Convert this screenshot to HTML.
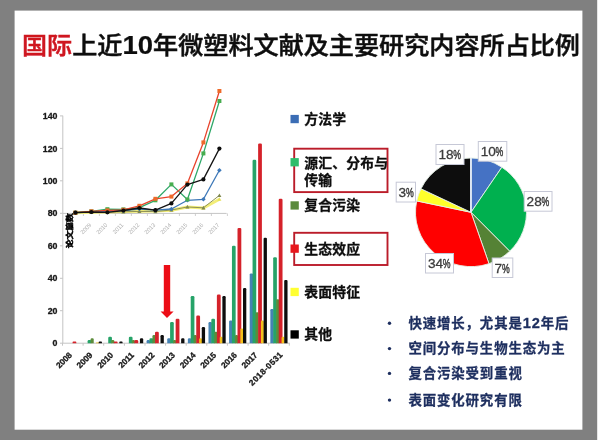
<!DOCTYPE html>
<html lang="zh"><head><meta charset="utf-8"><title>国际上近10年微塑料文献及主要研究内容所占比例</title>
<style>html,body{margin:0;padding:0;background:#808080;}body{width:600px;height:440px;overflow:hidden;}svg{display:block;font-family:"Liberation Sans", "Noto Sans CJK SC", sans-serif;}</style>
</head><body>
<svg width="600" height="440" viewBox="0 0 600 440">
<defs><filter id="soft" x="-5%" y="-5%" width="110%" height="110%"><feGaussianBlur stdDeviation="0.45"/></filter></defs>
<rect x="0" y="0" width="600" height="440" fill="#808080"/>
<rect x="597.2" y="0" width="3" height="440" fill="#ffffff"/>
<g filter="url(#soft)">
<rect x="14.6" y="10.6" width="567.8" height="419.1" fill="#ffffff"/>
<text x="22.0" y="54.0" font-size="24.2" font-weight="500" fill="#111111" stroke="#111111" stroke-width="0.5" textLength="558" lengthAdjust="spacingAndGlyphs"><tspan fill="#cf1420" stroke="#cf1420">国际</tspan>上近<tspan font-weight="700" font-size="26.5" stroke-width="0.2">10</tspan>年微塑料文献及主要研究内容所占比例</text>
<g stroke="#c4c4c4" stroke-width="1" fill="none">
<path d="M62.8 115.7V343.2"/>
<path d="M62.3 343.2H289.8"/>
<path d="M60 343.2H62.8"/>
<path d="M60 310.7H62.8"/>
<path d="M60 278.3H62.8"/>
<path d="M60 245.8H62.8"/>
<path d="M60 213.3H62.8"/>
<path d="M60 180.8H62.8"/>
<path d="M60 148.4H62.8"/>
<path d="M60 115.9H62.8"/>
<path d="M62.5 343.2V345.7"/>
<path d="M83.1 343.2V345.7"/>
<path d="M103.7 343.2V345.7"/>
<path d="M124.4 343.2V345.7"/>
<path d="M145.0 343.2V345.7"/>
<path d="M165.6 343.2V345.7"/>
<path d="M186.2 343.2V345.7"/>
<path d="M206.8 343.2V345.7"/>
<path d="M227.4 343.2V345.7"/>
<path d="M248.1 343.2V345.7"/>
<path d="M268.7 343.2V345.7"/>
<path d="M289.3 343.2V345.7"/>
</g>
<g font-size="8.8" font-weight="700" fill="#1a1a1a" stroke="#1a1a1a" stroke-width="0.3" text-anchor="end">
<text x="57.5" y="346.3">0</text>
<text x="57.5" y="313.8">20</text>
<text x="57.5" y="281.4">40</text>
<text x="57.5" y="248.9">60</text>
<text x="57.5" y="216.4">80</text>
<text x="57.5" y="183.9">100</text>
<text x="57.5" y="151.5">120</text>
<text x="57.5" y="119.0">140</text>
</g>
<g font-size="8.3" font-weight="700" fill="#1a1a1a" stroke="#1a1a1a" stroke-width="0.3" text-anchor="end">
<text transform="translate(72.5 355.8) rotate(-45)">2008</text>
<text transform="translate(93.1 355.8) rotate(-45)">2009</text>
<text transform="translate(113.7 355.8) rotate(-45)">2010</text>
<text transform="translate(134.4 355.8) rotate(-45)">2011</text>
<text transform="translate(155.0 355.8) rotate(-45)">2012</text>
<text transform="translate(175.6 355.8) rotate(-45)">2013</text>
<text transform="translate(196.2 355.8) rotate(-45)">2014</text>
<text transform="translate(216.8 355.8) rotate(-45)">2015</text>
<text transform="translate(237.5 355.8) rotate(-45)">2016</text>
<text transform="translate(258.1 355.8) rotate(-45)">2017</text>
<text transform="translate(283.1 355.4) rotate(-45)" textLength="43.5" lengthAdjust="spacing">2018-0531</text>
</g>
<g>
<path d="M72.55 343.20V342.39Q72.55 341.58 73.36 341.58H75.54Q76.35 341.58 76.35 342.39V343.20Z" fill="#d5242c"/>
<path d="M87.62 343.20V341.15Q87.62 339.95 88.82 339.95H90.12Q91.32 339.95 91.32 341.15V343.20Z" fill="#27a368"/>
<path d="M90.62 343.20V339.53Q90.62 338.33 91.82 338.33H92.52Q93.72 338.33 93.72 339.53V343.20Z" fill="#5c8c3a"/>
<path d="M96.02 343.20V342.79Q96.02 342.39 96.42 342.39H98.51Q98.92 342.39 98.92 342.79V343.20Z" fill="#f3c11c"/>
<path d="M98.67 343.20V342.39Q98.67 341.58 99.48 341.58H101.16Q101.97 341.58 101.97 342.39V343.20Z" fill="#0a0a0a"/>
<path d="M108.24 343.20V337.91Q108.24 336.71 109.44 336.71H110.74Q111.94 336.71 111.94 337.91V343.20Z" fill="#27a368"/>
<path d="M111.24 343.20V341.15Q111.24 339.95 112.44 339.95H113.14Q114.34 339.95 114.34 341.15V343.20Z" fill="#5c8c3a"/>
<path d="M113.79 343.20V342.39Q113.79 341.58 114.60 341.58H116.77Q117.59 341.58 117.59 342.39V343.20Z" fill="#d5242c"/>
<path d="M119.29 343.20V342.39Q119.29 341.58 120.10 341.58H121.77Q122.59 341.58 122.59 342.39V343.20Z" fill="#0a0a0a"/>
<path d="M128.85 343.20V337.91Q128.85 336.71 130.05 336.71H131.35Q132.55 336.71 132.55 337.91V343.20Z" fill="#27a368"/>
<path d="M131.85 343.20V341.15Q131.85 339.95 133.05 339.95H133.75Q134.95 339.95 134.95 341.15V343.20Z" fill="#5c8c3a"/>
<path d="M134.40 343.20V341.15Q134.40 339.95 135.60 339.95H137.00Q138.20 339.95 138.20 341.15V343.20Z" fill="#d5242c"/>
<path d="M139.90 343.20V339.53Q139.90 338.33 141.10 338.33H142.00Q143.20 338.33 143.20 339.53V343.20Z" fill="#0a0a0a"/>
<path d="M146.62 343.20V341.15Q146.62 339.95 147.82 339.95H148.82Q150.02 339.95 150.02 341.15V343.20Z" fill="#4482b4"/>
<path d="M149.47 343.20V339.53Q149.47 338.33 150.67 338.33H151.97Q153.17 338.33 153.17 339.53V343.20Z" fill="#27a368"/>
<path d="M152.47 343.20V336.28Q152.47 335.08 153.67 335.08H154.37Q155.57 335.08 155.57 336.28V343.20Z" fill="#5c8c3a"/>
<path d="M155.02 343.20V333.03Q155.02 331.83 156.22 331.83H157.62Q158.82 331.83 158.82 333.03V343.20Z" fill="#d5242c"/>
<path d="M160.52 343.20V336.28Q160.52 335.08 161.72 335.08H162.62Q163.82 335.08 163.82 336.28V343.20Z" fill="#0a0a0a"/>
<path d="M167.24 343.20V339.53Q167.24 338.33 168.44 338.33H169.44Q170.64 338.33 170.64 339.53V343.20Z" fill="#4482b4"/>
<path d="M170.09 343.20V323.29Q170.09 322.09 171.29 322.09H172.59Q173.79 322.09 173.79 323.29V343.20Z" fill="#27a368"/>
<path d="M173.09 343.20V341.15Q173.09 339.95 174.29 339.95H174.99Q176.19 339.95 176.19 341.15V343.20Z" fill="#5c8c3a"/>
<path d="M175.64 343.20V320.05Q175.64 318.85 176.84 318.85H178.24Q179.44 318.85 179.44 320.05V343.20Z" fill="#d5242c"/>
<path d="M181.14 343.20V339.53Q181.14 338.33 182.34 338.33H183.24Q184.44 338.33 184.44 339.53V343.20Z" fill="#0a0a0a"/>
<path d="M187.86 343.20V339.53Q187.86 338.33 189.06 338.33H190.06Q191.26 338.33 191.26 339.53V343.20Z" fill="#4482b4"/>
<path d="M190.71 343.20V297.32Q190.71 296.12 191.91 296.12H193.21Q194.41 296.12 194.41 297.32V343.20Z" fill="#27a368"/>
<path d="M193.71 343.20V336.28Q193.71 335.08 194.91 335.08H195.61Q196.81 335.08 196.81 336.28V343.20Z" fill="#5c8c3a"/>
<path d="M196.26 343.20V316.80Q196.26 315.60 197.46 315.60H198.86Q200.06 315.60 200.06 316.80V343.20Z" fill="#d5242c"/>
<path d="M199.11 343.20V339.53Q199.11 338.33 200.31 338.33H200.81Q202.01 338.33 202.01 339.53V343.20Z" fill="#f3c11c"/>
<path d="M201.76 343.20V328.16Q201.76 326.96 202.96 326.96H203.86Q205.06 326.96 205.06 328.16V343.20Z" fill="#0a0a0a"/>
<path d="M208.48 343.20V323.29Q208.48 322.09 209.68 322.09H210.68Q211.88 322.09 211.88 323.29V343.20Z" fill="#4482b4"/>
<path d="M211.33 343.20V320.05Q211.33 318.85 212.53 318.85H213.83Q215.03 318.85 215.03 320.05V343.20Z" fill="#27a368"/>
<path d="M214.33 343.20V333.03Q214.33 331.83 215.53 331.83H216.23Q217.43 331.83 217.43 333.03V343.20Z" fill="#5c8c3a"/>
<path d="M216.88 343.20V295.69Q216.88 294.49 218.08 294.49H219.48Q220.68 294.49 220.68 295.69V343.20Z" fill="#d5242c"/>
<path d="M219.73 343.20V337.91Q219.73 336.71 220.93 336.71H221.43Q222.63 336.71 222.63 337.91V343.20Z" fill="#f3c11c"/>
<path d="M222.38 343.20V297.32Q222.38 296.12 223.58 296.12H224.48Q225.68 296.12 225.68 297.32V343.20Z" fill="#0a0a0a"/>
<path d="M229.10 343.20V321.67Q229.10 320.47 230.30 320.47H231.30Q232.50 320.47 232.50 321.67V343.20Z" fill="#4482b4"/>
<path d="M231.95 343.20V246.98Q231.95 245.78 233.15 245.78H234.45Q235.65 245.78 235.65 246.98V343.20Z" fill="#27a368"/>
<path d="M234.95 343.20V336.28Q234.95 335.08 236.15 335.08H236.85Q238.05 335.08 238.05 336.28V343.20Z" fill="#5c8c3a"/>
<path d="M237.50 343.20V229.12Q237.50 227.92 238.70 227.92H240.10Q241.30 227.92 241.30 229.12V343.20Z" fill="#d5242c"/>
<path d="M240.35 343.20V329.79Q240.35 328.59 241.55 328.59H242.05Q243.25 328.59 243.25 329.79V343.20Z" fill="#f3c11c"/>
<path d="M243.00 343.20V289.20Q243.00 288.00 244.20 288.00H245.10Q246.30 288.00 246.30 289.20V343.20Z" fill="#0a0a0a"/>
<path d="M249.71 343.20V274.59Q249.71 273.39 250.91 273.39H251.91Q253.11 273.39 253.11 274.59V343.20Z" fill="#4482b4"/>
<path d="M252.56 343.20V160.93Q252.56 159.73 253.76 159.73H255.06Q256.26 159.73 256.26 160.93V343.20Z" fill="#27a368"/>
<path d="M255.56 343.20V313.55Q255.56 312.35 256.76 312.35H257.46Q258.66 312.35 258.66 313.55V343.20Z" fill="#5c8c3a"/>
<path d="M258.11 343.20V144.70Q258.11 143.50 259.31 143.50H260.71Q261.91 143.50 261.91 144.70V343.20Z" fill="#d5242c"/>
<path d="M260.96 343.20V321.67Q260.96 320.47 262.16 320.47H262.66Q263.86 320.47 263.86 321.67V343.20Z" fill="#f3c11c"/>
<path d="M263.61 343.20V238.87Q263.61 237.67 264.81 237.67H265.71Q266.91 237.67 266.91 238.87V343.20Z" fill="#0a0a0a"/>
<path d="M270.33 343.20V310.30Q270.33 309.10 271.53 309.10H272.53Q273.73 309.10 273.73 310.30V343.20Z" fill="#4482b4"/>
<path d="M273.18 343.20V258.35Q273.18 257.15 274.38 257.15H275.68Q276.88 257.15 276.88 258.35V343.20Z" fill="#27a368"/>
<path d="M276.18 343.20V300.56Q276.18 299.36 277.38 299.36H278.08Q279.28 299.36 279.28 300.56V343.20Z" fill="#5c8c3a"/>
<path d="M278.73 343.20V199.90Q278.73 198.70 279.93 198.70H281.33Q282.53 198.70 282.53 199.90V343.20Z" fill="#d5242c"/>
<path d="M281.58 343.20V337.91Q281.58 336.71 282.78 336.71H283.28Q284.48 336.71 284.48 337.91V343.20Z" fill="#f3c11c"/>
<path d="M284.23 343.20V281.08Q284.23 279.88 285.43 279.88H286.33Q287.53 279.88 287.53 281.08V343.20Z" fill="#0a0a0a"/>
</g>
<path d="M163.8 265H170.2V311.5H173.6L167 318L160.6 311.5H163.8Z" fill="#ec1118"/>
<path d="M62.8 213.4H226.6" stroke="#c4c4c4" stroke-width="1" fill="none"/>
<g stroke="#c4c4c4" stroke-width="0.8">
<path d="M67.4 213.4V216"/>
<path d="M83.4 213.4V216"/>
<path d="M99.4 213.4V216"/>
<path d="M115.4 213.4V216"/>
<path d="M131.4 213.4V216"/>
<path d="M147.4 213.4V216"/>
<path d="M163.4 213.4V216"/>
<path d="M179.4 213.4V216"/>
<path d="M195.4 213.4V216"/>
<path d="M211.4 213.4V216"/>
<path d="M227.4 213.4V216"/>
</g>
<polyline points="75.4,212.7 91.4,212.3 107.4,212.0 123.4,211.6 139.4,211.2 155.4,211.0 171.4,210.2 187.4,207.0 203.4,208.0 219.4,199.2" fill="none" stroke="#f3ee78" stroke-width="3.0" stroke-linejoin="round"/>
<path d="M75.4 210.7l2 3.6h-4z" fill="#e6e05a"/>
<path d="M91.4 210.3l2 3.6h-4z" fill="#e6e05a"/>
<path d="M107.4 210.0l2 3.6h-4z" fill="#e6e05a"/>
<path d="M123.4 209.6l2 3.6h-4z" fill="#e6e05a"/>
<path d="M139.4 209.2l2 3.6h-4z" fill="#e6e05a"/>
<path d="M155.4 209.0l2 3.6h-4z" fill="#e6e05a"/>
<path d="M171.4 208.2l2 3.6h-4z" fill="#e6e05a"/>
<path d="M187.4 205.0l2 3.6h-4z" fill="#e6e05a"/>
<path d="M203.4 206.0l2 3.6h-4z" fill="#e6e05a"/>
<path d="M219.4 197.2l2 3.6h-4z" fill="#e6e05a"/>
<polyline points="75.4,212.7 91.4,212.3 107.4,212.0 123.4,211.8 139.4,211.4 155.4,211.6 171.4,210.0 187.4,207.0 203.4,207.8 219.4,195.4" fill="none" stroke="#8f9258" stroke-width="1.0" stroke-linejoin="round"/>
<path d="M75.4 210.7l2 3.6h-4z" fill="#7f8850"/>
<path d="M91.4 210.3l2 3.6h-4z" fill="#7f8850"/>
<path d="M107.4 210.0l2 3.6h-4z" fill="#7f8850"/>
<path d="M123.4 209.8l2 3.6h-4z" fill="#7f8850"/>
<path d="M139.4 209.4l2 3.6h-4z" fill="#7f8850"/>
<path d="M155.4 209.6l2 3.6h-4z" fill="#7f8850"/>
<path d="M171.4 208.0l2 3.6h-4z" fill="#7f8850"/>
<path d="M187.4 205.0l2 3.6h-4z" fill="#7f8850"/>
<path d="M203.4 205.8l2 3.6h-4z" fill="#7f8850"/>
<path d="M219.4 193.4l2 3.6h-4z" fill="#7f8850"/>
<polyline points="75.4,212.7 91.4,212.0 107.4,211.3 123.4,210.5 139.4,209.0 155.4,210.2 171.4,209.0 187.4,200.3 203.4,199.3 219.4,170.2" fill="none" stroke="#3d78b8" stroke-width="1.3" stroke-linejoin="round"/>
<path d="M75.4 210.4l2.3 2.3l-2.3 2.3l-2.3 -2.3z" fill="#3d78b8"/>
<path d="M91.4 209.7l2.3 2.3l-2.3 2.3l-2.3 -2.3z" fill="#3d78b8"/>
<path d="M107.4 209.0l2.3 2.3l-2.3 2.3l-2.3 -2.3z" fill="#3d78b8"/>
<path d="M123.4 208.2l2.3 2.3l-2.3 2.3l-2.3 -2.3z" fill="#3d78b8"/>
<path d="M139.4 206.7l2.3 2.3l-2.3 2.3l-2.3 -2.3z" fill="#3d78b8"/>
<path d="M155.4 207.9l2.3 2.3l-2.3 2.3l-2.3 -2.3z" fill="#3d78b8"/>
<path d="M171.4 206.7l2.3 2.3l-2.3 2.3l-2.3 -2.3z" fill="#3d78b8"/>
<path d="M187.4 198.0l2.3 2.3l-2.3 2.3l-2.3 -2.3z" fill="#3d78b8"/>
<path d="M203.4 197.0l2.3 2.3l-2.3 2.3l-2.3 -2.3z" fill="#3d78b8"/>
<path d="M219.4 167.9l2.3 2.3l-2.3 2.3l-2.3 -2.3z" fill="#3d78b8"/>
<polyline points="75.4,212.7 91.4,211.3 107.4,209.2 123.4,209.4 139.4,207.6 155.4,200.3 171.4,184.4 187.4,199.5 203.4,153.4 219.4,101.0" fill="none" stroke="#2ea868" stroke-width="1.3" stroke-linejoin="round"/>
<rect x="73.4" y="210.7" width="4" height="4" fill="#46ad50"/>
<rect x="89.4" y="209.3" width="4" height="4" fill="#46ad50"/>
<rect x="105.4" y="207.2" width="4" height="4" fill="#46ad50"/>
<rect x="121.4" y="207.4" width="4" height="4" fill="#46ad50"/>
<rect x="137.4" y="205.6" width="4" height="4" fill="#46ad50"/>
<rect x="153.4" y="198.3" width="4" height="4" fill="#46ad50"/>
<rect x="169.4" y="182.4" width="4" height="4" fill="#46ad50"/>
<rect x="185.4" y="197.5" width="4" height="4" fill="#46ad50"/>
<rect x="201.4" y="151.4" width="4" height="4" fill="#46ad50"/>
<rect x="217.4" y="99.0" width="4" height="4" fill="#46ad50"/>
<polyline points="75.4,212.7 91.4,211.3 107.4,210.4 123.4,209.8 139.4,205.8 155.4,198.8 171.4,196.6 187.4,183.4 203.4,142.4 219.4,91.0" fill="none" stroke="#e8432c" stroke-width="1.3" stroke-linejoin="round"/>
<rect x="73.4" y="210.7" width="4" height="4" fill="#ee6a2c"/>
<rect x="89.4" y="209.3" width="4" height="4" fill="#ee6a2c"/>
<rect x="105.4" y="208.4" width="4" height="4" fill="#ee6a2c"/>
<rect x="121.4" y="207.8" width="4" height="4" fill="#ee6a2c"/>
<rect x="137.4" y="203.8" width="4" height="4" fill="#ee6a2c"/>
<rect x="153.4" y="196.8" width="4" height="4" fill="#ee6a2c"/>
<rect x="169.4" y="194.6" width="4" height="4" fill="#ee6a2c"/>
<rect x="185.4" y="181.4" width="4" height="4" fill="#ee6a2c"/>
<rect x="201.4" y="140.4" width="4" height="4" fill="#ee6a2c"/>
<rect x="217.4" y="89.0" width="4" height="4" fill="#ee6a2c"/>
<polyline points="75.4,212.7 91.4,212.0 107.4,212.3 123.4,210.5 139.4,208.0 155.4,210.2 171.4,203.4 187.4,184.6 203.4,179.4 219.4,148.6" fill="none" stroke="#141414" stroke-width="1.3" stroke-linejoin="round"/>
<circle cx="75.4" cy="212.7" r="2.1" fill="#0a0a0a"/>
<circle cx="91.4" cy="212.0" r="2.1" fill="#0a0a0a"/>
<circle cx="107.4" cy="212.3" r="2.1" fill="#0a0a0a"/>
<circle cx="123.4" cy="210.5" r="2.1" fill="#0a0a0a"/>
<circle cx="139.4" cy="208.0" r="2.1" fill="#0a0a0a"/>
<circle cx="155.4" cy="210.2" r="2.1" fill="#0a0a0a"/>
<circle cx="171.4" cy="203.4" r="2.1" fill="#0a0a0a"/>
<circle cx="187.4" cy="184.6" r="2.1" fill="#0a0a0a"/>
<circle cx="203.4" cy="179.4" r="2.1" fill="#0a0a0a"/>
<circle cx="219.4" cy="148.6" r="2.1" fill="#0a0a0a"/>
<g font-size="5.8" fill="#b0b0b0" text-anchor="end">
<text transform="translate(91.8 225.4) rotate(-45)">2009</text>
<text transform="translate(107.8 225.4) rotate(-45)">2010</text>
<text transform="translate(123.8 225.4) rotate(-45)">2011</text>
<text transform="translate(139.8 225.4) rotate(-45)">2012</text>
<text transform="translate(155.8 225.4) rotate(-45)">2013</text>
<text transform="translate(171.8 225.4) rotate(-45)">2014</text>
<text transform="translate(187.8 225.4) rotate(-45)">2015</text>
<text transform="translate(203.8 225.4) rotate(-45)">2016</text>
<text transform="translate(219.8 225.4) rotate(-45)">2017</text>
</g>
<text transform="translate(71.9 248.2) rotate(-90) scale(1.25 1)" font-size="7" font-weight="700" fill="#000" stroke="#000" stroke-width="0.45">论文篇数</text>
<g fill="none" stroke="#bb1e2a" stroke-width="1.9"><rect x="294.2" y="148.7" width="93.3" height="43.4"/><rect x="294.2" y="232.8" width="93.3" height="32.2"/></g>
<g font-size="13.8" letter-spacing="0.2" font-weight="700" fill="#0c0c0c" stroke="#0c0c0c" stroke-width="0.3">
<rect x="290.5" y="114.9" width="8.3" height="8.3" fill="#3a6db5" stroke="none"/>
<text x="304.3" y="124.0">方法学</text>
<rect x="290.5" y="158.1" width="8.3" height="8.3" fill="#2ebd6b" stroke="none"/>
<text x="304.3" y="168.1">源汇、分布与</text>
<rect x="290.5" y="201.3" width="8.3" height="8.3" fill="#5a8a3c" stroke="none"/>
<text x="304.3" y="210.4">复合污染</text>
<rect x="290.5" y="244.5" width="8.3" height="8.3" fill="#e8141c" stroke="none"/>
<text x="304.3" y="253.6">生态效应</text>
<rect x="290.5" y="287.8" width="8.3" height="8.3" fill="#ffff33" stroke="none"/>
<text x="304.3" y="296.9">表面特征</text>
<rect x="290.5" y="330.3" width="8.3" height="8.3" fill="#000000" stroke="none"/>
<text x="304.3" y="339.4">其他</text>
<text x="304.3" y="184.6">传输</text>
</g>
<g stroke="#e6f2e8" stroke-width="0.9" stroke-linejoin="round">
<path d="M471.00 212.30L471.00 158.00A55.5 54.3 0 0 1 501.87 167.18Z" fill="#4472c4"/>
<path d="M471.00 212.30L501.87 167.18A55.5 54.3 0 0 1 509.69 251.23Z" fill="#00b050"/>
<path d="M471.00 212.30L509.69 251.23A55.5 54.3 0 0 1 488.98 263.67Z" fill="#548235"/>
<path d="M471.00 212.30L488.98 263.67A55.5 54.3 0 0 1 416.73 200.92Z" fill="#ff0000"/>
<path d="M471.00 212.30L416.73 200.92A55.5 54.3 0 0 1 420.99 188.75Z" fill="#ffff2a"/>
<path d="M471.00 212.30L420.99 188.75A55.5 54.3 0 0 1 471.00 158.00Z" fill="#0a0a0a"/>
</g>
<path d="M470.9 158V212" stroke="#dde6f4" stroke-width="1.8" fill="none"/>
<rect x="478.3" y="141.5" width="28.5" height="19.7" fill="#fff" stroke="#c6c8d6" stroke-width="1"/>
<text x="480.7" y="156.3" font-size="13.6" fill="#3c3c3c" stroke="#3c3c3c" stroke-width="0.3">10</text>
<text transform="translate(495.5 156.3) scale(0.64 1)" font-size="13.6" fill="#3c3c3c" stroke="#3c3c3c" stroke-width="0.5">%</text>
<rect x="436.0" y="144.5" width="28.0" height="20.0" fill="#fff" stroke="#c6c8d6" stroke-width="1"/>
<text x="438.4" y="159.3" font-size="13.6" fill="#3c3c3c" stroke="#3c3c3c" stroke-width="0.3">18</text>
<text transform="translate(453.2 159.3) scale(0.64 1)" font-size="13.6" fill="#3c3c3c" stroke="#3c3c3c" stroke-width="0.5">%</text>
<rect x="396.2" y="182.2" width="19.3" height="19.8" fill="#fff" stroke="#c6c8d6" stroke-width="1"/>
<text x="398.6" y="197.0" font-size="13.6" fill="#3c3c3c" stroke="#3c3c3c" stroke-width="0.3">3</text>
<text transform="translate(405.9 197.0) scale(0.64 1)" font-size="13.6" fill="#3c3c3c" stroke="#3c3c3c" stroke-width="0.5">%</text>
<rect x="524.2" y="191.5" width="27.8" height="19.7" fill="#fff" stroke="#c6c8d6" stroke-width="1"/>
<text x="526.6" y="206.3" font-size="13.6" fill="#3c3c3c" stroke="#3c3c3c" stroke-width="0.3">28</text>
<text transform="translate(541.4 206.3) scale(0.64 1)" font-size="13.6" fill="#3c3c3c" stroke="#3c3c3c" stroke-width="0.5">%</text>
<rect x="425.5" y="253.5" width="28.0" height="19.5" fill="#fff" stroke="#c6c8d6" stroke-width="1"/>
<text x="427.9" y="268.3" font-size="13.6" fill="#3c3c3c" stroke="#3c3c3c" stroke-width="0.3">34</text>
<text transform="translate(442.7 268.3) scale(0.64 1)" font-size="13.6" fill="#3c3c3c" stroke="#3c3c3c" stroke-width="0.5">%</text>
<rect x="492.2" y="258.0" width="20.6" height="19.5" fill="#fff" stroke="#c6c8d6" stroke-width="1"/>
<text x="494.6" y="272.8" font-size="13.6" fill="#3c3c3c" stroke="#3c3c3c" stroke-width="0.3">7</text>
<text transform="translate(501.9 272.8) scale(0.64 1)" font-size="13.6" fill="#3c3c3c" stroke="#3c3c3c" stroke-width="0.5">%</text>
<g font-size="13.4" letter-spacing="0.9" font-weight="700" fill="#1f2f5f" stroke="#1f2f5f" stroke-width="0.3">
<circle cx="389.5" cy="323.3" r="1.7" stroke="none"/>
<text x="408.4" y="327.8">快速增长，尤其是<tspan font-size="14.6">12</tspan>年后</text>
<circle cx="389.5" cy="348.6" r="1.7" stroke="none"/>
<text x="408.4" y="353.1">空间分布与生物生态为主</text>
<circle cx="389.5" cy="373.4" r="1.7" stroke="none"/>
<text x="408.4" y="377.9">复合污染受到重视</text>
<circle cx="389.5" cy="400.1" r="1.7" stroke="none"/>
<text x="408.4" y="404.6">表面变化研究有限</text>
</g>
</g>
</svg>
</body></html>
